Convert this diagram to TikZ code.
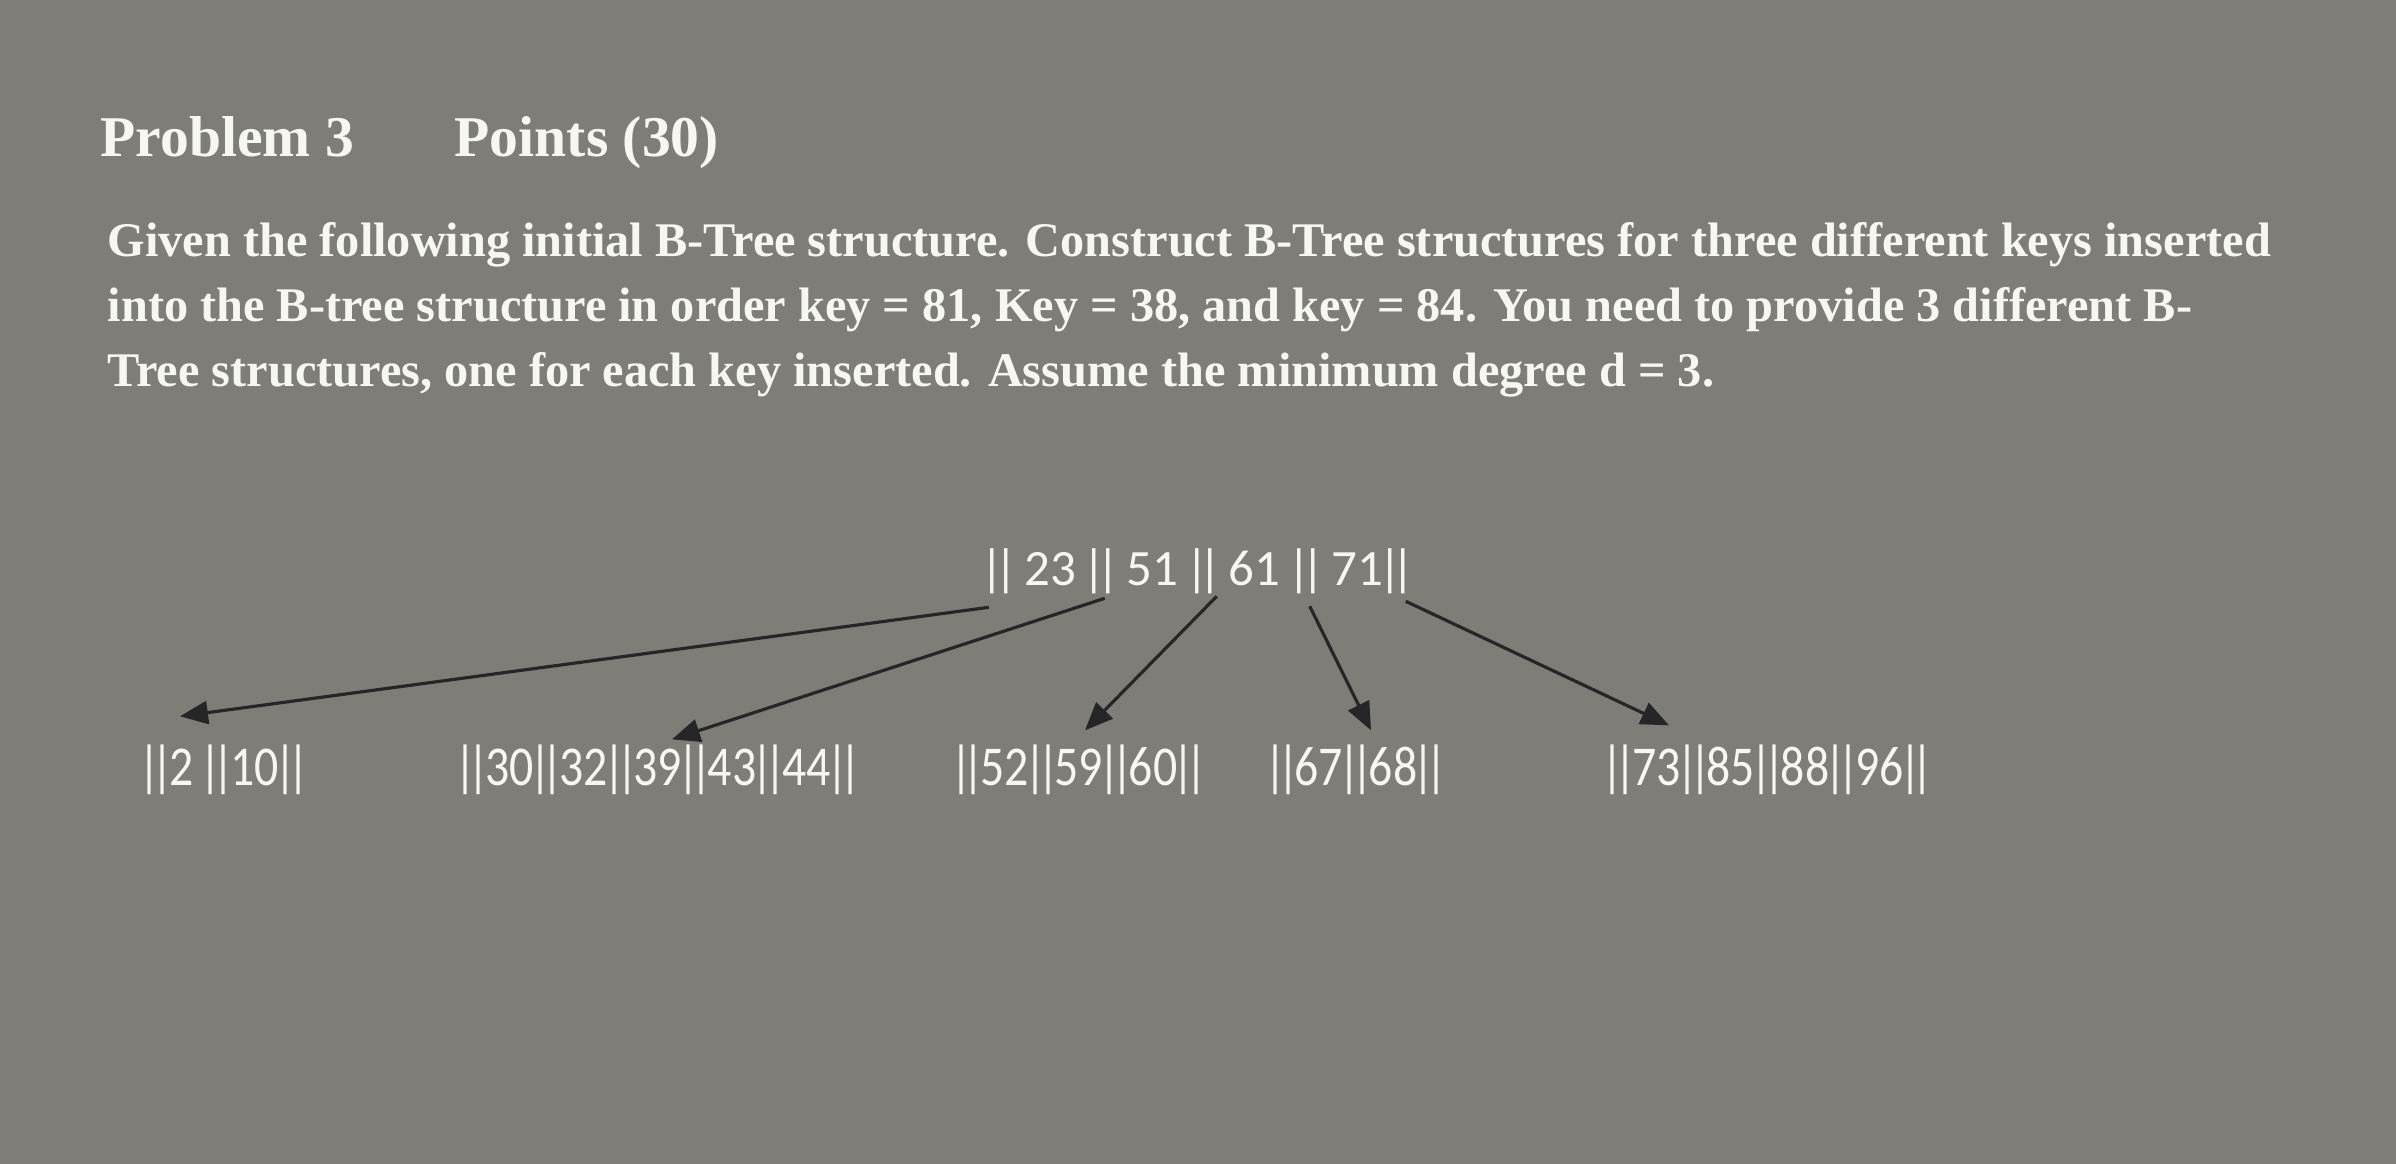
\documentclass[tikz,border=0pt]{standalone}
\usepackage{fontspec}
\setmainfont{Liberation Serif}
\newfontfamily\keyfont{Carlito}
\usetikzlibrary{arrows.meta, positioning}
\definecolor{screen}{RGB}{126,125,120}
\definecolor{glow}{RGB}{246,246,243}
% tight separator bar and condensed leaf text
\newcommand{\kb}{\kern-0.095em|\kern-0.095em}
\newcommand{\slim}[1]{\scalebox{0.85}[1]{#1}}

\begin{document}
\begin{tikzpicture}[
    node distance=0.4cm and 0.6cm,
    heading/.style={anchor=base west, inner sep=0pt, text=glow, font=\bfseries\fontsize{16.4}{20}\selectfont},
    prose/.style={anchor=north west, inner sep=0pt, align=left, text=glow, font=\bfseries\fontsize{13.75}{18.4}\selectfont},
    rootnode/.style={inner sep=0pt, text=glow, font=\keyfont\fontsize{14.5}{16}\selectfont},
    leafnode/.style={inner sep=0pt, text=glow, font=\keyfont\fontsize{16}{18}\selectfont},
    ptr/.style={-{Triangle[length=2.8mm, width=2.3mm]}, line width=0.9pt, black!85}
]

% Screen
\fill[screen] (0,0) rectangle (23.96,11.64);
\useasboundingbox (0,0) rectangle (23.96,11.64);

% Heading and question
\node[heading] (prob) at (1.00,10.07) {Problem 3};
\node[heading] (pts) at (4.54,10.07) {Points (30)};
\node[prose] (task) at (1.07,9.42) {Given the following initial B-Tree structure. Construct B-Tree structures for three different keys inserted\\
into the B-tree structure in order key = 81, Key = 38, and key = 84. You need to provide 3 different B-\\
Tree structures, one for each key inserted. Assume the minimum degree d = 3.};

% Root
\node[rootnode] (root) at (11.98,5.93) {\kb\kb{} 23 \kb\kb{} 51 \kb\kb{} 61 \kb\kb{} 71\kb\kb};

% Leaves
\node[leafnode] (leafA) at (2.24,3.94) {\slim{\kb\kb2 \kb\kb10\kb\kb}};
\node[leafnode] (leafB) at (6.58,3.94) {\slim{\kb\kb30\kb\kb32\kb\kb39\kb\kb43\kb\kb44\kb\kb}};
\node[leafnode] (leafC) at (10.79,3.94) {\slim{\kb\kb52\kb\kb59\kb\kb60\kb\kb}};
\node[leafnode] (leafD) at (13.56,3.94) {\slim{\kb\kb67\kb\kb68\kb\kb}};
\node[leafnode] (leafE) at (17.68,3.94) {\slim{\kb\kb73\kb\kb85\kb\kb88\kb\kb96\kb\kb}};

% Pointers
\draw[ptr] ([shift={(0.04,-0.13)}]root.south west) -- ([shift={(-0.44,0.28)}]leafA.north);
\draw[ptr] ([shift={(1.20,-0.04)}]root.south west) -- ([shift={(0.14,0.05)}]leafB.north);
\draw[ptr] ([shift={(2.32,-0.02)}]root.south west) -- ([shift={(0.06,0.14)}]leafC.north);
\draw[ptr] ([shift={(3.25,-0.12)}]root.south west) -- ([shift={(0.15,0.14)}]leafD.north);
\draw[ptr] ([shift={(4.21,-0.07)}]root.south west) -- ([shift={(-0.99,0.19)}]leafE.north);

\end{tikzpicture}
\end{document}
